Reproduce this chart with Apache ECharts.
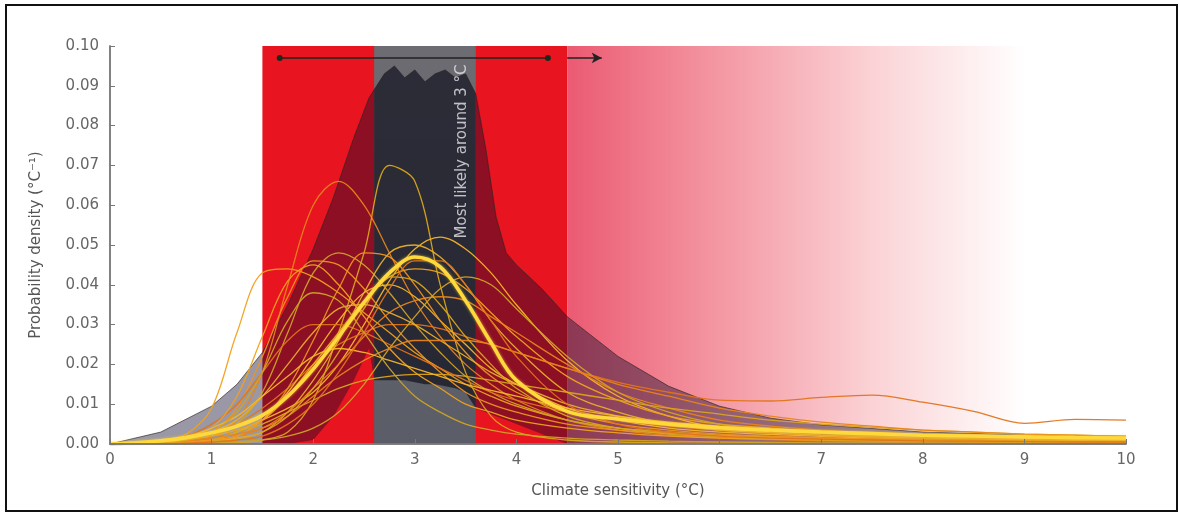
<!DOCTYPE html>
<html>
<head>
<meta charset="utf-8">
<script src="https://cdn.jsdelivr.net/npm/echarts@6/dist/echarts.min.js"></script>
<style>
  html, body { margin: 0; padding: 0; background: #ffffff; }
  #chart { width: 1180px; height: 518px; }
</style>
</head>
<body>
<div id="chart"></div>
<script>
// Climate sensitivity grid (°C) shared by all model PDFs
const sensitivity = [0, 0.25, 0.5, 0.75, 1, 1.25, 1.5, 1.75, 2, 2.25, 2.5, 2.75, 3, 3.25, 3.5, 3.75, 4, 4.5, 5, 5.5, 6, 6.5, 7, 7.5, 8, 8.5, 9, 9.5, 10];

// Combined (mean) probability density
const meanPdf = [0, .0003, .0008, .0016, .0028, .0045, .0072, .012, .0188, .027, .0355, .043, .047, .0445, .036, .0255, .016, .0082, .0063, .005, .0041, .0035, .003, .0026, .0022, .002, .0018, .0016, .0015];

// Individual study PDFs
const pdf01 = [0, .0003, .0009, .0025, .009, .028, .043, .044, .042, .038, .033, .028, .023, .019, .015, .012, .0095, .006, .004, .003, .0022, .0018, .0014, .0012, .001, .0009, .0008, .0007, .0006];
const pdf02 = [0, 0, .0002, .0008, .002, .006, .018, .04, .06, .066, .06, .048, .036, .027, .02, .015, .011, .006, .0035, .0022, .0015, .0011, .0008, .0006, .0005, .0004, .0003, .0003, .0002];
const pdf03 = [0, 0, 0, 0, 0, .0003, .001, .003, .011, .028, .048, .07, .066, .04, .018, .007, .003, .001, .0005, .0003, .0002, .0001, .0001, 0, 0, 0, 0, 0, 0];
const pdf04 = [0, 0, 0, .0003, .001, .003, .006, .009, .013, .02, .03, .041, .049, .052, .049, .043, .035, .021, .012, .007, .004, .003, .002, .0015, .0012, .001, .0008, .0007, .0006];
const pdf05 = [0, .0003, .0008, .0015, .003, .005, .009, .014, .02, .025, .028, .03, .03, .029, .027, .025, .023, .019, .0155, .013, .011, .0108, .0117, .0123, .0105, .0082, .0052, .0062, .006];
const pdf06 = [0, .0002, .0006, .0012, .002, .005, .013, .028, .043, .048, .045, .038, .03, .023, .017, .013, .01, .006, .004, .003, .002, .0017, .0014, .0012, .001, .0009, .0008, .0007, .0006];
const pdf07 = [0, .0003, .0008, .0015, .003, .009, .022, .037, .046, .045, .039, .031, .024, .018, .013, .01, .008, .005, .0035, .0027, .002, .0017, .0014, .0012, .001, .0009, .0008, .0007, .0006];
const pdf08 = [0, 0, .0001, .0003, .0006, .0015, .003, .008, .016, .026, .038, .048, .05, .047, .04, .031, .024, .013, .008, .005, .0035, .0028, .0022, .0018, .0015, .0013, .0011, .001, .0009];
const pdf09 = [0, .0001, .0004, .001, .002, .0035, .006, .012, .02, .028, .036, .042, .044, .043, .039, .033, .027, .017, .011, .007, .005, .004, .0032, .0027, .0022, .0019, .0016, .0014, .0012];
const pdf10 = [0, 0, .0002, .0005, .001, .002, .004, .008, .014, .02, .027, .033, .036, .037, .036, .032, .028, .02, .013, .009, .006, .0045, .0035, .0029, .0024, .002, .0017, .0015, .0013];
const pdf11 = [0, .0001, .0003, .0006, .001, .003, .005, .008, .011, .014, .016, .017, .0175, .0175, .017, .016, .015, .013, .011, .009, .0075, .006, .005, .0042, .0035, .003, .0025, .0022, .002];
const pdf12 = [0, 0, .0001, .0004, .001, .002, .006, .013, .022, .031, .038, .04, .037, .031, .025, .019, .015, .009, .006, .004, .003, .0024, .002, .0017, .0015, .0013, .0011, .001, .0009];
const pdf13 = [0, .0003, .0008, .002, .005, .01, .018, .026, .03, .03, .028, .025, .022, .019, .016, .013, .011, .008, .006, .0045, .0035, .0028, .0022, .0018, .0015, .0013, .0011, .001, .0009];
const pdf14 = [0, 0, 0, 0, .0002, .0005, .001, .002, .004, .008, .015, .024, .032, .039, .042, .04, .034, .022, .013, .008, .005, .0035, .0026, .002, .0016, .0013, .0011, .0009, .0008];
const pdf15 = [0, 0, .0001, .0004, .001, .002, .006, .014, .026, .039, .048, .047, .04, .031, .023, .017, .013, .008, .005, .0035, .0025, .002, .0016, .0013, .0011, .0009, .0008, .0007, .0006];
const pdf16 = [0, .0002, .0006, .0013, .003, .006, .012, .02, .028, .034, .035, .033, .03, .026, .022, .018, .015, .01, .007, .005, .0035, .0028, .0022, .0018, .0015, .0013, .0011, .001, .0009];
const pdf17 = [0, .0003, .0009, .002, .004, .012, .027, .041, .045, .04, .032, .024, .018, .014, .01, .008, .006, .004, .0028, .002, .0015, .0012, .001, .0008, .0007, .0006, .0005, .0004, .0004];
const pdf18 = [0, .0001, .0003, .0007, .0015, .0025, .004, .007, .012, .017, .021, .024, .026, .026, .026, .025, .023, .019, .015, .012, .009, .007, .0055, .0045, .0035, .003, .0025, .0022, .002];
const pdf19 = [0, 0, .0001, .0003, .0006, .0012, .003, .007, .014, .023, .034, .042, .041, .035, .027, .02, .014, .007, .004, .0025, .0018, .0014, .0011, .0009, .0008, .0007, .0006, .0005, .0005];
const pdf20 = [0, .0003, .0008, .0018, .004, .007, .012, .017, .022, .024, .023, .021, .019, .017, .015, .0135, .012, .009, .007, .0055, .0045, .0037, .003, .0025, .0021, .0018, .0016, .0014, .0012];
const pdf21 = [0, 0, 0, .0002, .0005, .001, .002, .005, .01, .018, .028, .039, .046, .046, .04, .031, .022, .01, .005, .003, .002, .0015, .0012, .001, .0008, .0007, .0006, .0005, .0005];
const pdf22 = [0, .0001, .0004, .001, .003, .008, .018, .031, .038, .036, .028, .019, .012, .008, .005, .0035, .0025, .0015, .001, .0007, .0005, .0004, .0003, .0003, .0002, .0002, .0002, .0001, .0001];

const studyPdfs = [pdf01, pdf02, pdf03, pdf04, pdf05, pdf06, pdf07, pdf08, pdf09, pdf10, pdf11,
                   pdf12, pdf13, pdf14, pdf15, pdf16, pdf17, pdf18, pdf19, pdf20, pdf21, pdf22];

// Envelope of the broad assessed range (dark shading)
const envelopeX     = [0, 0.5, 1, 1.25, 1.5, 1.75, 2, 2.2, 2.4, 2.55, 2.6, 2.7, 2.8, 2.9, 3.0, 3.1, 3.2, 3.3, 3.4, 3.5, 3.6, 3.7, 3.8, 3.9, 4.0, 4.25, 4.5, 5, 5.5, 6, 6.5, 7, 8, 9, 10];
const envelopeUpper = [0, .003, .0095, .015, .023, .035, .049, .062, .077, .087, .089, .093, .095, .092, .094, .091, .093, .094, .092, .093, .088, .074, .057, .048, .045, .039, .032, .022, .0145, .0095, .0065, .0048, .003, .0023, .0018];
const envelopeLower = [0, 0, 0, 0, 0, 0, .001, .007, .016, .024, .016, .016, .016, .016, .0155, .015, .015, .0145, .014, .013, .009, .008, .007, .006, .005, .0025, 0, 0, 0, 0, 0, 0, 0, 0, 0];

// Shaded ranges on the sensitivity axis (°C)
const likelyRange = [1.5, 4.5];
const mostLikelyRange = [2.6, 3.6];
const upperTailRange = [4.5, 10];

// Range arrow and its open-ended extension
const arrowLevel = 0.097;
const arrowSpan = [1.67, 4.31];
const arrowExtension = [4.5, 4.84];

// Annotation
const noteText = 'Most likely around 3 °C';
const notePosition = [3.47, 0.0735];

const lineColors = ['#f0a11c', '#e8841a', '#d9a51c', '#f5b52a', '#e2731a', '#cfa326', '#ee9420', '#e7ae2c'];

const shadeSegments = [
  { from: 0, to: mostLikelyRange[0], fill: 'rgba(14,10,42,0.42)' },
  { from: mostLikelyRange[0], to: mostLikelyRange[1], fill: 'rgba(10,10,24,0.64)' },
  { from: mostLikelyRange[1], to: 10, fill: 'rgba(14,10,42,0.42)' }
];

const zip = (xs, ys) => xs.map((x, i) => [x, ys[i]]);
const axisFont = 'DejaVu Sans';

const chart = echarts.init(document.getElementById('chart'), null, { renderer: 'canvas' });

const series = [];

// Background bands
series.push({
  type: 'line',
  data: [[0, 0]],
  symbol: 'none',
  lineStyle: { width: 0, opacity: 0 },
  silent: true,
  markArea: {
    silent: true,
    data: [
      [{ xAxis: likelyRange[0], yAxis: 0, itemStyle: { color: '#e8141f' } }, { xAxis: likelyRange[1], yAxis: 0.1 }],
      [{ xAxis: upperTailRange[0], yAxis: 0, itemStyle: { color: {
          type: 'linear', x: 0, y: 0, x2: 1, y2: 0,
          colorStops: [
            { offset: 0, color: '#eb5a72' },
            { offset: 0.25, color: '#f3939f' },
            { offset: 0.55, color: '#fbd3d6' },
            { offset: 0.82, color: '#ffffff' },
            { offset: 1, color: '#ffffff' }
          ] } } }, { xAxis: upperTailRange[1], yAxis: 0.1 }],
      [{ xAxis: mostLikelyRange[0], yAxis: 0, itemStyle: { color: {
          type: 'linear', x: 0, y: 0, x2: 0, y2: 1,
          colorStops: [
            { offset: 0, color: '#6c6c72' },
            { offset: 1, color: '#5a5d67' }
          ] } } }, { xAxis: mostLikelyRange[1], yAxis: 0.1 }]
    ]
  }
});

// Dark envelope, shaded per background region
series.push({
  type: 'custom',
  silent: true,
  z: 2,
  data: shadeSegments.map(s => [s.from, s.to]),
  encode: { x: [0, 1] },
  renderItem: function (params, api) {
    const seg = shadeSegments[params.dataIndex];
    const top = [];
    const bottom = [];
    envelopeX.forEach((x, i) => {
      if (x >= seg.from - 1e-9 && x <= seg.to + 1e-9) {
        top.push(api.coord([x, envelopeUpper[i]]));
        bottom.unshift(api.coord([x, envelopeLower[i]]));
      }
    });
    return { type: 'polygon', shape: { points: top.concat(bottom) }, style: { fill: seg.fill } };
  }
});

// Envelope outline
series.push({
  type: 'line',
  silent: true,
  z: 2,
  data: zip(envelopeX, envelopeUpper),
  symbol: 'none',
  lineStyle: { color: 'rgba(45,35,35,0.65)', width: 1 }
});

// Individual study curves
studyPdfs.forEach((pdf, k) => {
  series.push({
    type: 'line',
    silent: true,
    z: 3,
    smooth: 0.35,
    symbol: 'none',
    data: zip(sensitivity, pdf),
    lineStyle: { color: lineColors[k % lineColors.length], width: 1.3, opacity: 0.95 }
  });
});

// Combined curve
series.push({
  type: 'line',
  silent: true,
  z: 4,
  smooth: 0.35,
  symbol: 'none',
  data: zip(sensitivity, meanPdf),
  lineStyle: { color: '#ffd83c', width: 3.6, shadowBlur: 3, shadowColor: 'rgba(255,214,60,0.7)' }
});

// Range bar with end dots
series.push({
  type: 'line',
  silent: true,
  z: 5,
  data: arrowSpan.map(x => [x, arrowLevel]),
  symbol: 'circle',
  symbolSize: 6,
  itemStyle: { color: '#1c2a1c' },
  lineStyle: { color: '#222222', width: 1.5 }
});

// Open-ended extension with arrowhead
series.push({
  type: 'line',
  silent: true,
  z: 5,
  data: arrowExtension.map(x => [x, arrowLevel]),
  showSymbol: true,
  symbol: (value, params) => (params.dataIndex === 1 ? 'arrow' : 'none'),
  symbolSize: [8, 10],
  symbolRotate: -90,
  itemStyle: { color: '#222222' },
  lineStyle: { color: '#222222', width: 1.5 }
});

// Rotated annotation
series.push({
  type: 'scatter',
  silent: true,
  z: 6,
  symbolSize: 0,
  data: [notePosition],
  label: {
    show: true,
    position: 'inside',
    rotate: 90,
    formatter: noteText,
    color: '#e6e6ec',
    fontFamily: axisFont,
    fontSize: 15
  }
});

const option = {
  animation: false,
  backgroundColor: '#ffffff',
  grid: { left: 110, right: 54, top: 46, bottom: 74 },
  xAxis: [
    {
      type: 'value', min: 0, max: 10, interval: 1, z: 8,
      name: 'Climate sensitivity (°C)', nameLocation: 'middle', nameGap: 40,
      nameTextStyle: { fontFamily: axisFont, fontSize: 15, color: '#555' },
      axisLine: { show: true, onZero: false, lineStyle: { color: '#7a7a7a', width: 1.5 } },
      axisTick: { show: true, inside: true, length: 5, lineStyle: { color: '#777' } },
      axisLabel: { margin: 9, fontFamily: axisFont, fontSize: 15, color: '#666' },
      splitLine: { show: false }
    },
    {
      type: 'value', min: 0, max: 10, position: 'top', z: 8,
      axisLine: { show: true, lineStyle: { color: '#7a7a7a', width: 1.5 } },
      axisTick: { show: false }, axisLabel: { show: false }, splitLine: { show: false }
    }
  ],
  yAxis: [
    {
      type: 'value', min: 0, max: 0.1, interval: 0.01, z: 8,
      name: 'Probability density (°C⁻¹)', nameLocation: 'middle', nameGap: 66,
      nameTextStyle: { fontFamily: axisFont, fontSize: 15, color: '#555' },
      axisLine: { show: true, onZero: false, lineStyle: { color: '#7a7a7a', width: 1.5 } },
      axisTick: { show: true, inside: true, length: 5, lineStyle: { color: '#777' } },
      axisLabel: { margin: 11, fontFamily: axisFont, fontSize: 15, color: '#666', formatter: v => v.toFixed(2) },
      splitLine: { show: false }
    },
    {
      type: 'value', min: 0, max: 0.1, position: 'right', z: 8,
      axisLine: { show: true, lineStyle: { color: '#7a7a7a', width: 1.5 } },
      axisTick: { show: false }, axisLabel: { show: false }, splitLine: { show: false }
    }
  ],
  graphic: [
    { type: 'rect', z: 100, silent: true, shape: { x: 6, y: 5, width: 1171, height: 506 },
      style: { fill: 'none', stroke: '#111', lineWidth: 2 } }
  ],
  series: series
};

chart.setOption(option);
</script>
</body>
</html>
